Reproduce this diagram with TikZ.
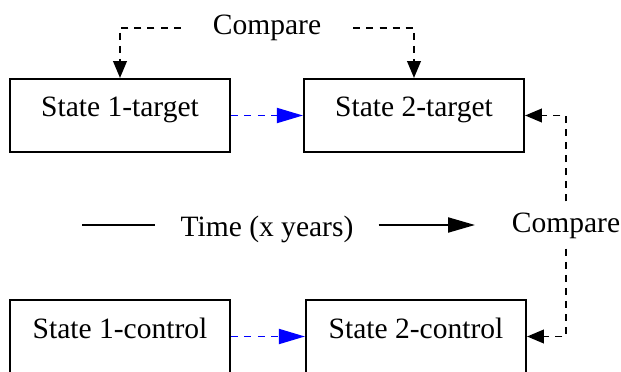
\documentclass[tikz,border=0pt]{standalone}
\usepackage{fontspec}
\setmainfont{Liberation Serif}
\usetikzlibrary{arrows.meta}

\begin{document}
\begin{tikzpicture}[font=\fontsize{21}{25}\selectfont,
  statebox/.style={draw, line width=1.5pt, minimum width=5.5cm, minimum height=1.825cm,
    inner sep=0pt, text height=0.5cm, text depth=0.425cm},
  cmplabel/.style={inner xsep=0.8cm, inner ysep=0.26cm, text height=0.5cm, text depth=0.15cm},
  cmparrow/.style={line width=1.3pt, dash pattern=on 5pt off 4.3pt,
    -{Triangle[length=0.42cm,width=0.34cm]}},
  bluearrow/.style={blue, line width=1.3pt, dash pattern=on 5pt off 4.5pt,
    -{Triangle[length=0.65cm,width=0.375cm]}},
  timeline/.style={line width=1.5pt}]

  \useasboundingbox (0,0) rectangle (15.525,-9.3);

  \node[statebox] (t1) at (3.0,-2.8875) {State 1-target};
  \node[statebox] (t2) at (10.35,-2.8875) {State 2-target};
  \node[statebox] (c1) at (3.0,-8.4125) {State 1-control};
  \node[statebox] (c2) at (10.4,-8.4125) {State 2-control};

  \node[cmplabel] (cmpT) at (6.675,-0.7) {Compare};
  \node[cmplabel] (cmpR) at (14.15,-5.625) {Compare};

  \node[inner xsep=0.625cm, text height=0.6cm, text depth=0.01cm] (time) at (6.675,-5.625) {Time (x years)};
  \coordinate (tl) at (2.05,-5.625);
  \coordinate (tr) at (11.875,-5.625);

  \draw[timeline] (tl) -- (time.west);
  \draw[timeline, -{Triangle[length=0.675cm,width=0.375cm]}] (time.east) -- (tr);

  \draw[bluearrow] (t1) -- (t2);
  \draw[bluearrow] (c1) -- (c2);

  \draw[cmparrow] (cmpT.west) -| (t1.north);
  \draw[cmparrow] (cmpT.east) -| (t2.north);
  \draw[cmparrow] (cmpR.north) |- (t2.east);
  \draw[cmparrow] (cmpR.south) |- (c2.east);

\end{tikzpicture}
\end{document}
